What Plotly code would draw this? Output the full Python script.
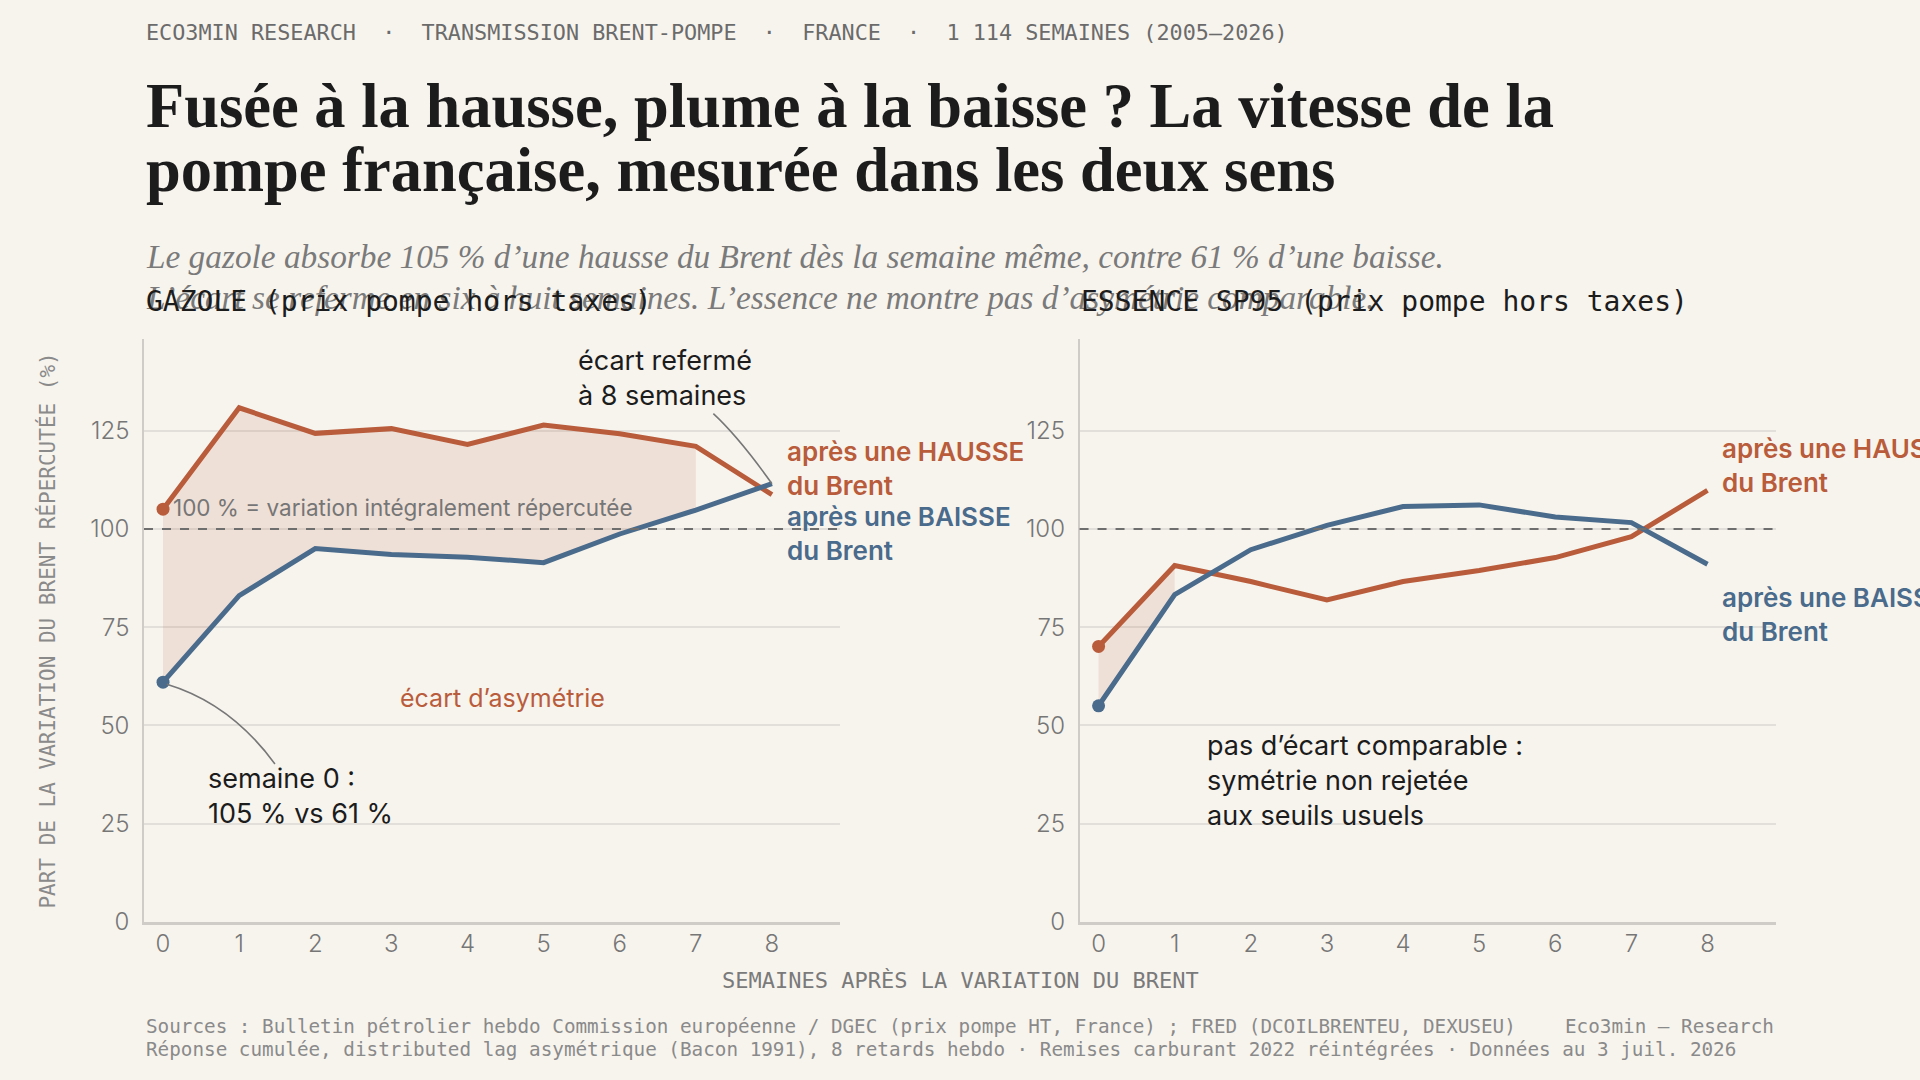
import plotly.graph_objects as go
from plotly.subplots import make_subplots

# données (réponse cumulée, % de la variation du Brent)
weeks = [0, 1, 2, 3, 4, 5, 6, 7, 8]
gazole_hausse = [105.0, 130.8, 124.3, 125.5, 121.5, 126.4, 124.2, 121.0, 108.7]
gazole_baisse = [61.0, 83.0, 95.0, 93.5, 92.8, 91.4, 98.7, 104.8, 111.5]
sp95_hausse = [70.1, 90.7, 86.6, 81.9, 86.6, 89.4, 92.7, 98.0, 109.8]
sp95_baisse = [55.0, 83.3, 94.7, 100.9, 105.7, 106.1, 103.0, 101.6, 91.0]
gazole_ecart_n = 8   # semaines 0 a 7 : ecart significatif
sp95_ecart_n = 2     # semaines 0 a 1
y_ticks = [0, 25, 50, 75, 100, 125]
x_ticks = weeks

BG = "#F7F4EE"
RED = "#B95C3B"
BLUE = "#4A6B8B"
FILL = "rgba(185,92,59,0.13)"
INK = "#1c1c1c"
GREY = "#767676"
SANS = "Inter, Roboto, sans-serif"
MONO = "DejaVu Sans Mono, monospace"
SERIF = "Liberation Serif, serif"

fig = make_subplots(rows=1, cols=2, horizontal_spacing=0.1465)


def add_panel(col, hausse, baisse, n_ecart):
    # zone d'asymetrie
    fig.add_trace(go.Scatter(x=weeks[:n_ecart], y=baisse[:n_ecart], mode="lines",
                             line=dict(width=0), showlegend=False, hoverinfo="skip"),
                  row=1, col=col)
    fig.add_trace(go.Scatter(x=weeks[:n_ecart], y=hausse[:n_ecart], mode="lines",
                             line=dict(width=0), fill="tonexty", fillcolor=FILL,
                             showlegend=False, hoverinfo="skip"),
                  row=1, col=col)
    fig.add_trace(go.Scatter(x=weeks, y=hausse, mode="lines",
                             line=dict(color=RED, width=5), showlegend=False),
                  row=1, col=col)
    fig.add_trace(go.Scatter(x=weeks, y=baisse, mode="lines",
                             line=dict(color=BLUE, width=5), showlegend=False),
                  row=1, col=col)
    fig.add_trace(go.Scatter(x=[weeks[0], weeks[0]], y=[hausse[0], baisse[0]], mode="markers",
                             marker=dict(color=[RED, BLUE], size=13), showlegend=False),
                  row=1, col=col)


add_panel(1, gazole_hausse, gazole_baisse, gazole_ecart_n)
add_panel(2, sp95_hausse, sp95_baisse, sp95_ecart_n)

for col in (1, 2):
    fig.update_xaxes(range=[-0.25, 8.9], tickvals=x_ticks, showgrid=False, zeroline=False,
                     showline=True, linecolor="#cfccc7", linewidth=2.5, ticks="",
                     ticklabelstandoff=-2,
                     tickfont=dict(family=SANS, size=24, color=GREY, weight=300),
                     row=1, col=col)
    fig.update_yaxes(range=[0, 148.3], tickvals=y_ticks, showgrid=True, gridcolor="#e2dfda",
                     gridwidth=1.5, zeroline=False, showline=True, linecolor="#cfccc7",
                     linewidth=1.5, ticks="", ticklabelstandoff=8,
                     tickfont=dict(family=SANS, size=24, color=GREY, weight=300),
                     row=1, col=col)

# ligne 100 %
for xr, yr in (("x", "y"), ("x2", "y2")):
    fig.add_shape(type="line", xref=xr + " domain", yref=yr, x0=0, x1=1, y0=100, y1=100,
                  line=dict(color="#6e6e6e", width=2, dash="dash"))

# connecteurs courbes
fig.add_shape(type="path", xref="x", yref="y",
              path="M %s,%s Q 0.89,55.6 1.47,40.2" % (weeks[0] + 0.05, gazole_baisse[0] - 0.5),
              line=dict(color="#777777", width=1.6))
fig.add_shape(type="path", xref="x", yref="y",
              path="M 7.23,129.3 Q 7.56,123.4 %s,%s" % (weeks[-1], gazole_baisse[-1]),
              line=dict(color="#777777", width=1.6))

ann = []


def note(text, x, y, xref, yref, size, color, xanchor="left", yanchor="middle",
         family=SANS, weight=None, style=None, angle=0):
    f = dict(family=family, size=size, color=color)
    if weight:
        f["weight"] = weight
    if style:
        f["style"] = style
    ann.append(dict(text=text, x=x, y=y, xref=xref, yref=yref, showarrow=False,
                    xanchor=xanchor, yanchor=yanchor, align="left", font=f,
                    textangle=angle))


# en-tete
note("ECO3MIN RESEARCH  ·  TRANSMISSION BRENT-POMPE  ·  FRANCE  ·  1 114 SEMAINES (2005–2026)",
     0, 1.525, "paper", "paper", 21.8, "#6b6b6b", family=MONO)
note("Fusée à la hausse, plume à la baisse ? La vitesse de la", 0, 1.399, "paper", "paper",
     62.5, INK, family=SERIF, weight="bold")
note("pompe française, mesurée dans les deux sens", 0, 1.290, "paper", "paper",
     62.5, INK, family=SERIF, weight="bold")
note("Le gazole absorbe 105 % d’une hausse du Brent dès la semaine même, contre 61 % d’une baisse.",
     0, 1.141, "paper", "paper", 33.3, "#7a7a7a", family=SERIF, style="italic")
note("L’écart se referme en six à huit semaines. L’essence ne montre pas d’asymétrie comparable.",
     0, 1.071, "paper", "paper", 33.3, "#7a7a7a", family=SERIF, style="italic")
note("GAZOLE (prix pompe hors taxes)", 0, 1.065, "paper", "paper", 28, INK, family=MONO)
note("ESSENCE SP95 (prix pompe hors taxes)", 0.573, 1.065, "paper", "paper", 28, INK, family=MONO)

# axes
note("PART DE LA VARIATION DU BRENT RÉPERCUTÉE (%)", -0.0594, 0.5, "paper", "paper", 21,
     "#8a8a8a", xanchor="center", family=MONO, angle=-90)
note("SEMAINES APRÈS LA VARIATION DU BRENT", 0.5, -0.0995, "paper", "paper", 22,
     "#7a7a7a", xanchor="center", family=MONO)

# pied
note("Sources : Bulletin pétrolier hebdo Commission européenne / DGEC (prix pompe HT, France) ; "
     "FRED (DCOILBRENTEU, DEXUSEU)", 0, -0.180, "paper", "paper", 19.3, "#8a8a8a", family=MONO)
note("Réponse cumulée, distributed lag asymétrique (Bacon 1991), 8 retards hebdo · "
     "Remises carburant 2022 réintégrées · Données au 3 juil. 2026",
     0, -0.218, "paper", "paper", 19.3, "#8a8a8a", family=MONO)
note("Eco3min — Research", 1, -0.180, "paper", "paper", 19.3, "#8a8a8a", xanchor="right",
     family=MONO)

# panneau gazole
note("100 % = variation intégralement répercutée", 0.1, 105.5, "x", "y", 22.5, GREY)
note("écart d’asymétrie", 4.46, 57, "x", "y", 25, RED, xanchor="center")
note("semaine 0 :<br>105 % vs 61 %", 0.565, 32.1, "x", "y", 27, INK)
note("écart refermé<br>à 8 semaines", 5.42, 138.3, "x", "y", 27, INK)
note("après une HAUSSE<br>du Brent", 8.17, 115.3, "x", "y", 26, RED, weight=600)
note("après une BAISSE<br>du Brent", 8.17, 98.9, "x", "y", 26, BLUE, weight=600)

# panneau SP95
note("après une HAUSSE<br>du Brent", 8.16, 116.2, "x2", "y2", 26, RED, weight=600)
note("après une BAISSE<br>du Brent", 8.16, 78.2, "x2", "y2", 26, BLUE, weight=600)
note("pas d’écart comparable :<br>symétrie non rejetée<br>aux seuils usuels", 1.40, 36.1,
     "x2", "y2", 27, INK)

fig.update_layout(
    width=1920, height=1080,
    margin=dict(l=144, r=144, t=339, b=158),
    paper_bgcolor=BG, plot_bgcolor=BG,
    annotations=ann,
    showlegend=False,
)

fig.write_html("out.html", config={"displayModeBar": False},
               post_script="document.body.style.margin='0';"
                           "document.body.style.background='#F7F4EE';")
